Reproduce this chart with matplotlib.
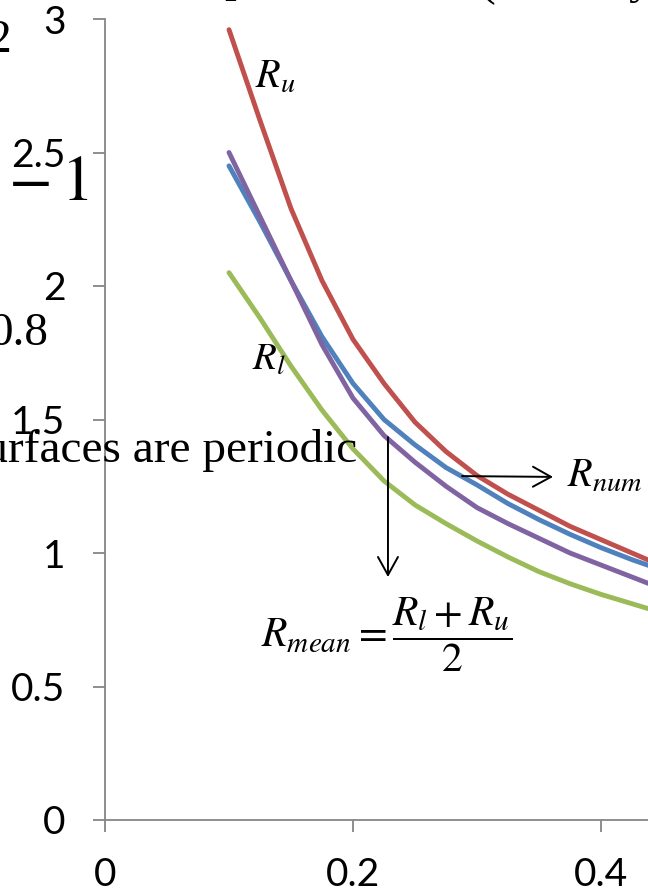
import numpy as np
import matplotlib
matplotlib.use("Agg")
import matplotlib.pyplot as plt

# values (x = 0.1 ... 0.45)
x_vals = [0.100, 0.125, 0.150, 0.175, 0.200, 0.225, 0.250, 0.275,
          0.300, 0.325, 0.350, 0.375, 0.400, 0.425, 0.450]
r_upper = [2.96, 2.62, 2.29, 2.02, 1.80, 1.635, 1.49, 1.38,
           1.29, 1.22, 1.16, 1.10, 1.05, 1.00, 0.95]
r_num = [2.45, 2.24, 2.02, 1.81, 1.635, 1.50, 1.405, 1.32,
         1.255, 1.185, 1.125, 1.07, 1.02, 0.975, 0.935]
r_mean = [2.50, 2.26, 2.02, 1.78, 1.58, 1.44, 1.34, 1.25,
          1.17, 1.11, 1.055, 1.00, 0.955, 0.91, 0.865]
r_lower = [2.05, 1.88, 1.70, 1.535, 1.39, 1.27, 1.18, 1.11,
           1.045, 0.985, 0.93, 0.885, 0.845, 0.81, 0.775]

y_ticks = [0, 0.5, 1, 1.5, 2, 2.5, 3]
y_labels = ["0", "0.5", "1", "1.5", "2", "2.5", "3"]
x_ticks = [0, 0.2, 0.4]
x_labels = ["0", "0.2", "0.4"]

plt.rcParams["mathtext.fontset"] = "stix"

W, H = 648, 893
fig = plt.figure(figsize=(W / 100, H / 100), dpi=100)
fig.patch.set_facecolor("white")


def fx(px):
    return px / W


def fy(py):
    return 1 - py / H


ax = fig.add_axes([fx(105), fy(820), 1 - fx(105), (820 - 19) / H])
ax.set_xlim(0, (648 - 105) / 1240)
ax.set_ylim(0, 3)

lw = 3.5
ax.plot(x_vals, r_upper, color="#C0504D", lw=lw, solid_capstyle="round", solid_joinstyle="round")
ax.plot(x_vals, r_num, color="#4F81BD", lw=lw, solid_capstyle="round", solid_joinstyle="round")
ax.plot(x_vals, r_mean, color="#8064A2", lw=lw, solid_capstyle="round", solid_joinstyle="round")
ax.plot(x_vals, r_lower, color="#9BBB59", lw=lw, solid_capstyle="round", solid_joinstyle="round")

for s in ["top", "right"]:
    ax.spines[s].set_visible(False)
for s in ["left", "bottom"]:
    ax.spines[s].set_color("#868686")
    ax.spines[s].set_linewidth(1.3)

ax.set_yticks(y_ticks)
ax.set_yticklabels(y_labels)
ax.set_xticks(x_ticks)
ax.set_xticklabels(x_labels)
ax.tick_params(axis="both", direction="out", length=8.5, width=1.3,
               color="#868686", labelsize=28)
ax.tick_params(axis="y", pad=20)
ax.tick_params(axis="x", pad=18)
for lab in ax.get_xticklabels() + ax.get_yticklabels():
    lab.set_fontfamily("Lato")

# curve labels
ax.text(0.121, 2.742, r"$R_u$", fontsize=29, ha="left", va="baseline")
ax.text(0.1185, 1.685, r"$R_l$", fontsize=28, ha="left", va="baseline")
ax.text(0.3726, 1.247, r"$R_{num}$", fontsize=29, ha="left", va="baseline")
ax.text(0.2274, 0.693, r"$R_{mean} = \dfrac{R_l + R_u}{2}$", fontsize=30,
        ha="center", va="center")

arrow = dict(arrowstyle="->,head_length=1.3,head_width=0.72", color="black",
             lw=1.4, shrinkA=0, shrinkB=0)
ax.annotate("", xy=(0.3613, 1.285), xytext=(0.2879, 1.288), arrowprops=arrow)
ax.annotate("", xy=(0.2282, 0.91), xytext=(0.2282, 1.434), arrowprops=arrow)

# bits of surrounding document text that overlap the chart
serif = "Liberation Serif"
fig.text(fx(12), fy(52), "2", fontsize=34, family=serif, ha="right", va="baseline")
fig.text(fx(88), fy(200), r"$0-1$", fontsize=46, ha="right", va="baseline")
fig.text(fx(48), fy(345), "0.8", fontsize=34, family=serif, ha="right", va="baseline")
fig.text(fx(357), fy(462), "surfaces are periodic", fontsize=34, family=serif,
         ha="right", va="baseline")
fig.text(fx(224), fy(-9), "p", fontsize=34, family=serif, ha="left", va="baseline")
fig.text(fx(488), fy(-5), "(", fontsize=34, family=serif, ha="center", va="baseline")
fig.text(fx(640), fy(-7), "y", fontsize=34, family=serif, ha="center", va="baseline")

fig.savefig("out.png", dpi=100)
